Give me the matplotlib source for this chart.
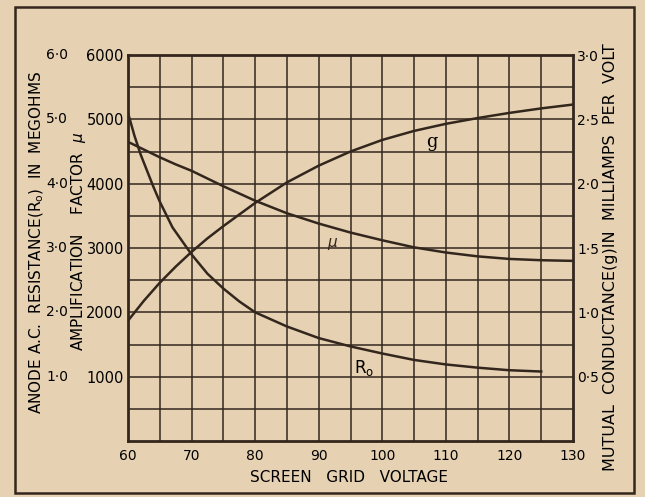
import matplotlib
matplotlib.use("Agg")
import matplotlib.pyplot as plt
from matplotlib.patches import Rectangle
import numpy as np

# screen grid voltage readings
volts_ro = [60, 61, 62, 63, 64, 65, 67, 70, 72.5, 75, 77.5, 80, 85, 90, 95, 100, 105, 110, 115, 120, 125]
ro_meg = [5.1, 4.75, 4.45, 4.2, 3.95, 3.72, 3.32, 2.9, 2.6, 2.37, 2.17, 2.0, 1.78, 1.6, 1.47, 1.36, 1.26, 1.19, 1.14, 1.1, 1.08]

volts_mu = [60, 62.5, 65, 67.5, 70, 75, 80, 85, 90, 95, 100, 105, 110, 115, 120, 125, 130]
mu = [4650, 4530, 4410, 4300, 4200, 3960, 3735, 3540, 3380, 3240, 3120, 3010, 2930, 2870, 2830, 2810, 2800]

volts_g = [60, 62.5, 65, 67.5, 70, 72.5, 75, 80, 85, 90, 95, 100, 105, 110, 115, 120, 125, 130]
g_ma = [0.935, 1.09, 1.23, 1.355, 1.47, 1.575, 1.67, 1.85, 2.01, 2.14, 2.25, 2.34, 2.41, 2.465, 2.51, 2.55, 2.585, 2.615]

x_ticks = [60, 70, 80, 90, 100, 110, 120, 130]
mu_ticks = [1000, 2000, 3000, 4000, 5000, 6000]
ro_labels = ["1·0", "2·0", "3·0", "4·0", "5·0", "6·0"]
g_ticks = [0.5, 1.0, 1.5, 2.0, 2.5, 3.0]
g_labels = ["0·5", "1·0", "1·5", "2·0", "2·5", "3·0"]

paper = "#e6d2b3"
ink = "#33261d"

fig = plt.figure(figsize=(6.45, 4.97), dpi=100, facecolor=paper)
W, H = 645, 497

ax = fig.add_axes([128 / W, 1 - 441 / H, 445 / W, 386 / H])
ax.set_facecolor(paper)
ax.set_xlim(60, 130)
ax.set_ylim(0, 6000)

# grid every 5 volts / 500 units
for v in np.arange(65, 130, 5):
    ax.axvline(v, color=ink, lw=1.1, zorder=1)
for u in np.arange(500, 6000, 500):
    ax.axhline(u, color=ink, lw=1.1, zorder=1)
for s in ax.spines.values():
    s.set_linewidth(2.0)
    s.set_color(ink)

ax.set_xticks(x_ticks)
ax.set_yticks(mu_ticks)
ax.tick_params(length=0, labelsize=10.5, colors="black", pad=3)
ax.tick_params(axis="x", pad=6, labelsize=10)

# curves (Ro scaled x1000, g scaled x2000 onto the mu scale)
ax.plot(volts_ro, np.array(ro_meg) * 1000, color=ink, lw=1.8, zorder=3)
ax.plot(volts_mu, mu, color=ink, lw=1.8, zorder=3)
ax.plot(volts_g, np.array(g_ma) * 2000, color=ink, lw=1.8, zorder=3)

ax.text(97.2, 1130, r"R$_\mathregular{o}$", fontsize=12, ha="center", va="center")
ax.text(92.2, 3060, r"$\mu$", fontsize=11, ha="center", va="center", color=ink)
ax.text(107.8, 4640, "g", fontsize=13, family="DejaVu Serif", ha="center", va="center")

ax2 = ax.twinx()
ax2.set_ylim(0, 3)
ax2.set_yticks(g_ticks)
ax2.set_yticklabels(g_labels)
ax2.tick_params(length=0, labelsize=10, pad=3)
for s in ax2.spines.values():
    s.set_visible(False)

# outer Ro scale
for t, lab in zip(mu_ticks, ro_labels):
    y = 1 - (441 - t / 6000 * 386) / H
    fig.text(46 / W, y, lab, fontsize=10, ha="left", va="center")

fig.text(37 / W, 1 - 242 / H, r"ANODE A.C.  RESISTANCE$\left(\mathregular{R_o}\right)$  IN  MEGOHMS",
         rotation=90, fontsize=11, ha="center", va="center")
fig.text(78 / W, 1 - 241 / H, r"AMPLIFICATION    FACTOR  $\mu$",
         rotation=90, fontsize=11, ha="center", va="center")
fig.text(611 / W, 1 - 257 / H, "MUTUAL  CONDUCTANCE(g)IN  MILLIAMPS  PER  VOLT",
         rotation=90, fontsize=11.5, ha="center", va="center")
fig.text(349 / W, 1 - 478 / H, "SCREEN   GRID   VOLTAGE", fontsize=11, ha="center", va="center")

# outer border of the figure
fig.patches.append(Rectangle((15 / W, 1 - 493 / H), 619 / W, 486 / H, transform=fig.transFigure,
                             fill=False, edgecolor=ink, lw=1.8))

fig.savefig("out.png", dpi=100, facecolor=paper)
